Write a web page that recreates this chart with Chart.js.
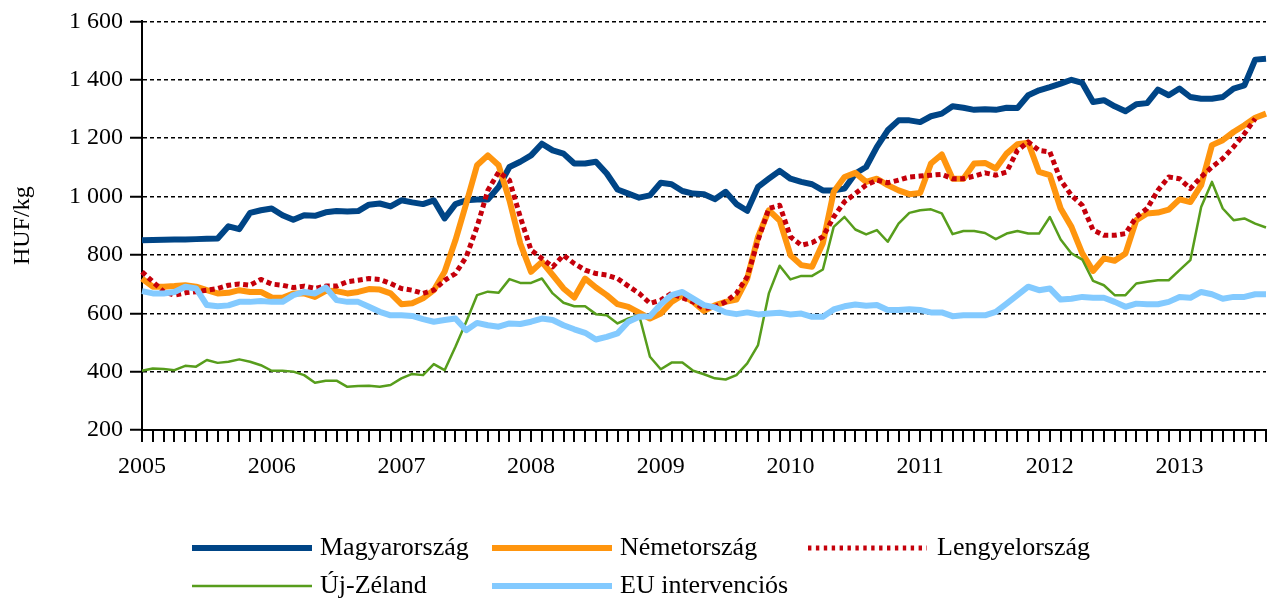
<!DOCTYPE html>
<html>
<head>
<meta charset="utf-8">
<script src="https://cdn.jsdelivr.net/npm/chart.js@4.4.1/dist/chart.umd.min.js"></script>
<style>
  html, body { margin: 0; padding: 0; background: #fff; }
  #wrap { width: 1276px; height: 600px; }
</style>
</head>
<body>
<div id="wrap"><canvas id="chart" width="1276" height="600"></canvas></div>
<script>
'use strict';

// ---- Data (monthly, Jan 2005 – Sep 2013) ----

const years = ['2005', '2006', '2007', '2008', '2009', '2010', '2011', '2012', '2013'];

const seriesNames = ['Magyarország', 'Németország', 'Lengyelország', 'Új-Zéland', 'EU intervenciós'];

const magyar = [
  850, 851, 852, 853, 853, 854, 855, 856, 898, 888, 944, 953,
  959, 936, 920, 936, 934, 946, 950, 949, 950, 972, 976, 966,
  987, 980, 974, 987, 925, 974, 987, 990, 990, 1033, 1101, 1119,
  1141, 1181, 1158, 1147, 1113, 1113, 1119, 1079, 1024, 1010, 996, 1004,
  1047, 1042, 1019, 1010, 1008, 991, 1016, 974, 951, 1033, 1061, 1088,
  1061, 1050, 1042, 1021, 1021, 1027, 1079, 1101, 1170, 1227, 1261, 1261,
  1255, 1275, 1284, 1309, 1304, 1297, 1299, 1297, 1304, 1303, 1347, 1364,
  1375, 1387, 1400, 1389, 1324, 1330, 1309, 1292, 1316, 1320, 1366, 1347,
  1370, 1341, 1335, 1335, 1341, 1370, 1381, 1469, 1472,
];

const nemet = [
  719, 691, 691, 693, 696, 691, 679, 668, 670, 679, 673, 673,
  654, 653, 668, 668, 656, 677, 676, 668, 673, 683, 681, 668,
  631, 634, 651, 679, 742, 850, 976, 1107, 1141, 1107, 987, 839,
  742, 776, 731, 685, 654, 719, 688, 662, 631, 622, 602, 582,
  599, 639, 662, 639, 608, 627, 639, 647, 719, 862, 953, 918,
  799, 765, 759, 840, 1016, 1067, 1081, 1050, 1061, 1039, 1021, 1008,
  1012, 1113, 1144, 1061, 1061, 1113, 1115, 1096, 1147, 1179, 1184, 1084,
  1073, 959, 896, 805, 745, 788, 780, 805, 919, 942, 945, 955,
  990, 981, 1039, 1176, 1193, 1221, 1244, 1270, 1284,
];

const lengyel = [
  742, 708, 674, 662, 670, 674, 679, 685, 696, 700, 696, 716,
  700, 696, 688, 693, 685, 693, 693, 708, 713, 719, 716, 702,
  685, 679, 668, 679, 713, 736, 793, 896, 1021, 1084, 1056, 930,
  816, 788, 759, 799, 770, 748, 736, 731, 719, 693, 668, 634,
  645, 668, 653, 639, 616, 622, 639, 668, 725, 850, 959, 970,
  862, 833, 842, 862, 930, 982, 1010, 1039, 1056, 1047, 1056, 1067,
  1070, 1073, 1076, 1061, 1061, 1070, 1081, 1073, 1084, 1158, 1187, 1158,
  1153, 1056, 1004, 970, 885, 867, 867, 873, 930, 959, 1021, 1067,
  1061, 1027, 1067, 1101, 1130, 1170, 1215, 1267, null,
];

const ujZeland = [
  403, 411, 409, 405, 420, 417, 440, 430, 434, 442, 434, 422,
  403, 403, 400, 388, 362, 369, 369, 348, 351, 352, 348, 354,
  377, 392, 388, 426, 405, 485, 571, 662, 674, 670, 717, 704,
  704, 719, 668, 636, 624, 624, 597, 593, 565, 582, 593, 451,
  408, 431, 431, 403, 391, 377, 373, 388, 428, 491, 668, 763,
  716, 728, 728, 750, 896, 930, 887, 870, 885, 845, 907, 944,
  953, 956, 942, 871, 882, 882, 875, 854, 873, 882, 873, 873,
  930, 853, 805, 784, 711, 696, 662, 662, 702, 708, 713, 713,
  748, 782, 964, 1050, 959, 919, 925, 907, 894,
];

const euInterv = [
  676, 668, 668, 673, 691, 685, 628, 624, 627, 639, 639, 642,
  639, 639, 662, 673, 668, 688, 645, 639, 639, 622, 605, 593,
  593, 591, 580, 571, 577, 582, 542, 567, 559, 554, 565, 563,
  571, 582, 577, 559, 545, 533, 510, 519, 531, 571, 588, 590,
  631, 662, 673, 650, 628, 620, 603, 597, 603, 596, 599, 602,
  596, 599, 588, 588, 613, 624, 630, 626, 628, 611, 611, 614,
  611, 603, 603, 590, 593, 593, 593, 605, 633, 662, 691, 679,
  685, 647, 650, 656, 653, 653, 639, 622, 633, 631, 631, 639,
  656, 653, 673, 665, 650, 656, 656, 665, 665,
];

// month categories, one per data point
const months = [];
years.forEach(y => {
  for (let m = 1; m <= 12; m++) months.push(`${y}-${String(m).padStart(2, '0')}`);
});
months.length = magyar.length;

// ---- Styling ----

const FONT = '"Liberation Serif", "Times New Roman", serif';

const styles = [
  { color: '#004586', width: 6, dash: [], legendDash: [] },
  { color: '#ff950e', width: 6, dash: [], legendDash: [] },
  { color: '#c5000b', width: 5, dash: [5, 3.5], legendDash: [3.4, 4.5] },
  { color: '#579d1c', width: 2.5, dash: [], legendDash: [] },
  { color: '#83caff', width: 6, dash: [], legendDash: [] },
];

const seriesData = [magyar, nemet, lengyel, ujZeland, euInterv];

const datasets = seriesData.map((data, i) => ({
  label: seriesNames[i],
  data,
  borderColor: styles[i].color,
  backgroundColor: styles[i].color,
  borderWidth: styles[i].width,
  borderDash: styles[i].dash,
  borderCapStyle: 'butt',
  borderJoinStyle: 'round',
  pointRadius: 0,
  tension: 0,
  fill: false,
  order: seriesData.length - i,
}));

// ---- Legend (two rows, three columns) ----

const legendSlots = [
  { x: 192, y: 548, len: 120, gap: 8 },
  { x: 492, y: 548, len: 120, gap: 8 },
  { x: 808, y: 548, len: 119, gap: 10 },
  { x: 192, y: 586, len: 120, gap: 8 },
  { x: 492, y: 586, len: 120, gap: 8 },
];

const gridLegend = {
  id: 'gridLegend',
  afterDraw(chart) {
    const ctx = chart.ctx;
    ctx.save();
    chart.data.datasets.forEach((ds, i) => {
      const slot = legendSlots[i];
      ctx.beginPath();
      ctx.lineWidth = ds.borderWidth;
      ctx.strokeStyle = ds.borderColor;
      ctx.setLineDash(styles[i].legendDash);
      ctx.lineCap = 'butt';
      ctx.moveTo(slot.x, slot.y);
      ctx.lineTo(slot.x + slot.len, slot.y);
      ctx.stroke();
      ctx.setLineDash([]);
      ctx.fillStyle = '#000';
      ctx.font = `26px ${FONT}`;
      ctx.textBaseline = 'middle';
      ctx.textAlign = 'left';
      ctx.fillText(ds.label, slot.x + slot.len + slot.gap, slot.y);
    });
    ctx.restore();
  },
};

function spaced(v) {
  return String(v).replace(/\B(?=(\d{3})+$)/g, ' ');
}

// ---- Chart ----

new Chart(document.getElementById('chart').getContext('2d'), {
  type: 'line',
  data: { labels: months, datasets },
  plugins: [gridLegend],
  options: {
    responsive: false,
    animation: false,
    devicePixelRatio: 1,
    layout: { padding: { top: 21, right: 8, bottom: 120, left: 0 } },
    plugins: {
      legend: { display: false },
      tooltip: { enabled: false },
    },
    scales: {
      x: {
        type: 'category',
        offset: false,
        grid: {
          drawOnChartArea: false,
          drawTicks: true,
          tickLength: 12,
          color: '#000',
          lineWidth: 2,
        },
        border: { color: '#000', width: 2 },
        ticks: {
          autoSkip: false,
          maxRotation: 0,
          minRotation: 0,
          padding: 10,
          color: '#000',
          font: { family: FONT, size: 24 },
          callback(v, i) {
            return i % 12 === 0 ? this.getLabelForValue(v).slice(0, 4) : '';
          },
        },
        afterFit(scale) { scale.height = 50; },
      },
      y: {
        min: 200,
        max: 1600,
        grid: {
          color: '#000',
          lineWidth: 1.5,
          tickLength: 12,
          tickColor: '#000',
          tickWidth: 2,
        },
        border: { color: '#000', width: 2, dash: [4, 3] },
        ticks: {
          stepSize: 200,
          padding: 7,
          color: '#000',
          font: { family: FONT, size: 24 },
          callback: v => spaced(v),
        },
        title: {
          display: true,
          text: 'HUF/kg',
          color: '#000',
          font: { family: FONT, size: 24 },
          padding: { top: 8, bottom: 0 },
        },
        afterFit(scale) { scale.width = 142; },
      },
    },
  },
});
</script>
</body>
</html>
